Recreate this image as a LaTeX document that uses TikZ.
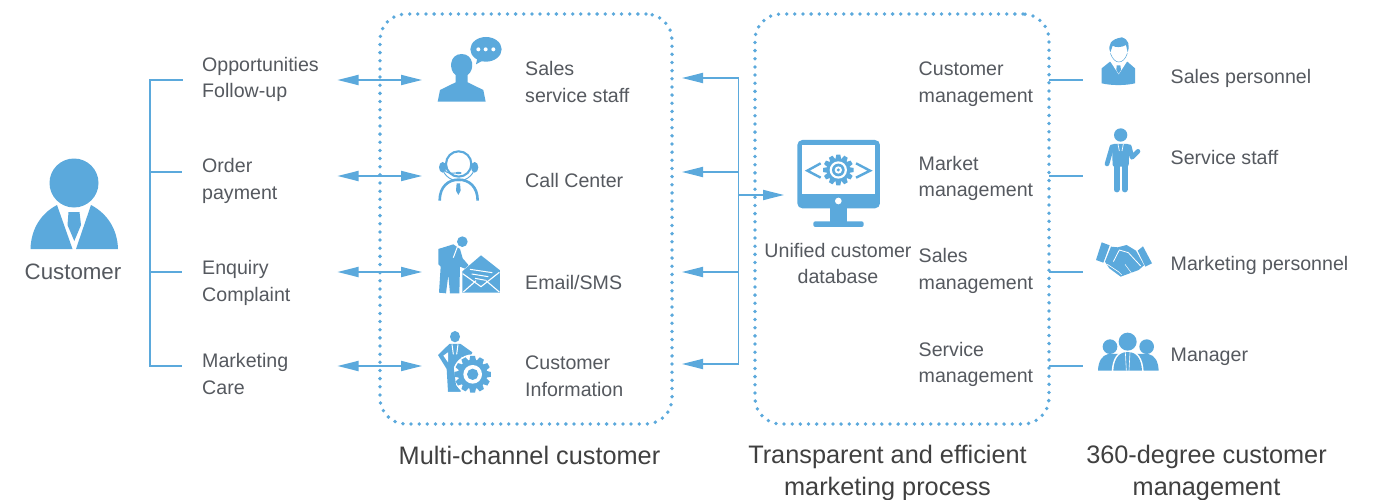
\documentclass[tikz,border=0pt]{standalone}
\usepackage{fontspec}
\setmainfont{Liberation Sans}
\usetikzlibrary{arrows.meta}
\definecolor{iconblue}{HTML}{5BA9DC}
\definecolor{txt}{HTML}{55595F}
\tikzset{
  lbl/.style={text=txt,anchor=west,align=left,inner sep=0pt,font=\fontsize{19.6}{26.7}\selectfont},
  clbl/.style={lbl,anchor=center,align=center},
  head/.style={text=black!75,anchor=center,align=center,inner sep=0pt,font=\fontsize{25.3}{32}\selectfont},
  wire/.style={draw=iconblue,line width=1.8pt},
  twoway/.style={wire,{Triangle[length=21pt,width=10pt]}-{Triangle[length=21pt,width=10pt]}},
  oneway/.style={wire,-{Triangle[length=21pt,width=10pt]}},
  dotbox/.style={draw=iconblue,line width=3.8pt,outer sep=0pt,line cap=round,dash pattern=on 0pt off 8.15pt,rounded corners=26pt},
  ic/.style={fill=iconblue,draw=none},
  wh/.style={fill=white,draw=none},
  wl/.style={draw=white,line width=1pt},
  zoomed/.style={x=0.3333pt,y=-0.3333pt}
}
\newcommand{\gearshape}[3]{% centre, outer radius, root radius
  \fill[iconblue] (#1) circle[radius=#3];
  \foreach \a in {0,30,...,330}{
    \fill[iconblue,shift={(#1)},rotate=\a]
      (-0.17*#2,0) -- (-0.17*#2,#3*1.02) -- (-0.13*#2,#2) -- (0.13*#2,#2) -- (0.17*#2,#3*1.02) -- (0.17*#2,0) -- cycle;
  }}
\begin{document}
\begin{tikzpicture}[x=1pt,y=-1pt]
\useasboundingbox (0,0) rectangle (1386,500);
\fill[white] (0,0) rectangle (1386,500);

% dotted boxes
\node[dotbox,minimum width=292pt,minimum height=410pt,anchor=north west] (channel) at (380,14) {};
\node[dotbox,minimum width=294pt,minimum height=410pt,anchor=north west] (process) at (755,14) {};

% customer icon
\fill[ic] (74,183) circle[radius=24.5];
\fill[ic] (30.5,249) .. controls (31,230) and (40,214) .. (57,205) -- (72.5,249) -- cycle;
\fill[ic] (118,249) .. controls (117.5,230) and (108,214) .. (91,205) -- (76,249) -- cycle;
\fill[ic] (68.5,212) -- (79.5,212) -- (81,225) -- (74.3,241) -- (67.5,225) -- cycle;

% text left
\node[clbl,font=\fontsize{22.3}{26}\selectfont] (customer) at (73,272) {Customer};
\node[lbl] (t1) at (202,79.5) {Opportunities\\Follow-up};
\node[lbl] (t2) at (202,181) {Order\\payment};
\node[lbl] (t3) at (202,283) {Enquiry\\Complaint};
\node[lbl] (t4) at (202,374) {Marketing\\Care};

% left bracket
\coordinate (bt) at (150,80);
\coordinate (bb) at (150,366);
\coordinate (b1) at (182.5,80);
\coordinate (b2) at (181.5,172);
\coordinate (b3) at (181.5,272);
\coordinate (b4) at (181.5,366);
\coordinate (bm2) at (150,172);
\coordinate (bm3) at (150,272);
\draw[wire,line cap=rect] (b1) -- (bt) -- (bb) -- (b4);
\draw[wire] (bm2) -- (b2);
\draw[wire] (bm3) -- (b3);

% double arrows
\foreach \n/\y in {1/80,2/176,3/272,4/366}{
  \coordinate (la\n) at (337.5,\y);
  \coordinate (lb\n) at (422,\y);
  \draw[twoway] (la\n) -- (lb\n);
}

% sales service staff icon
\begin{scope}[shift={(420,20)},zoomed]
  \fill[ic] (53,245) -- (60,210) -- (107,187) -- (107,165) .. controls (85,150) and (88,102) .. (125,102) .. controls (162,102) and (165,150) .. (143,165) -- (143,187) -- (190,210) -- (197,245) -- cycle;
  \fill[ic] (198,88) ellipse[x radius=47,y radius=37];
  \fill[ic] (172,115) -- (168,133) -- (195,118) -- cycle;
  \foreach \x in {175,197,220} \fill[white] (\x,88) circle[radius=6];
\end{scope}

% call center icon
\begin{scope}[shift={(420,20)},zoomed]
  \draw[iconblue,line width=2.1pt] (116,432) circle[radius=38];
  \draw[iconblue,line width=0.9pt] (65,432) arc[start angle=180,end angle=0,radius=50.5];
  \fill[ic] (68,442) ellipse[x radius=11,y radius=16];
  \fill[ic] (164,442) ellipse[x radius=11,y radius=16];
  \draw[iconblue,line width=1pt] (73,450) .. controls (80,460) and (90,460) .. (105,459);
  \fill[ic] (115,459) ellipse[x radius=10,y radius=3.5];
  \draw[iconblue,line width=2.6pt] (59,542) .. controls (59,500) and (85,479) .. (116,479) .. controls (147,479) and (173,500) .. (173,542);
  \fill[ic] (110,490) -- (120,490) -- (122,512) -- (115,525) -- (108,512) -- cycle;
\end{scope}

% email icon
\begin{scope}[shift={(420,225)},zoomed]
  \fill[ic] (127,50) circle[radius=16];
  \fill[ic] (55,72) -- (100,58) -- (120,72) -- (128,100) -- (147,122) -- (140,133) -- (120,125) -- (118,205) -- (90,205) -- (85,150) -- (78,205) -- (57,203) -- (62,125) -- (55,118) -- cycle;
  \draw[wl] (112,66) -- (100,98);
  \fill[white] (122,143) -- (183,87) -- (244,135) -- (244,207) -- (122,207) -- cycle;
  \fill[ic] (127,139) -- (183,91) -- (240,136) -- (240,203) -- (127,203) -- cycle;
  \draw[white,line width=1.1pt] (128,146) -- (183,185) -- (238,142);
  \draw[white,line width=1.1pt] (130,201) -- (168,167);
  \draw[white,line width=1.1pt] (238,201) -- (198,167);
  \draw[white,line width=1pt] (150,133) -- (217,143);
  \draw[white,line width=1pt] (155,147) -- (205,155);
  \draw[white,line width=1pt] (165,160) -- (197,166);
\end{scope}

% customer information icon
\begin{scope}[shift={(420,225)},zoomed]
  \fill[ic] (105,335) ellipse[x radius=15,y radius=17];
  \fill[ic] (54,390) -- (88,357) -- (122,357) -- (157,382) -- (150,402) -- (125,395) -- (122,500) -- (84,500) -- (80,432) -- cycle;
  \fill[white] (70,392) -- (84,382) -- (84,412) -- cycle;
  \draw[wl] (96,358) -- (100,388);
  \draw[wl] (114,358) -- (110,388);
  \fill[white] (158,448) circle[radius=60];
  \fill[ic] (122,500) -- (84,500) -- (84,420) -- (100,420) -- (108,480) -- cycle;
  \gearshape{158,448}{55}{44}
  \fill[white] (158,448) circle[radius=28];
  \fill[ic] (158,448) circle[radius=17];
\end{scope}

% middle text
\node[lbl] (c1) at (525,82) {Sales\\service staff};
\node[lbl] (c2) at (525,180.5) {Call Center};
\node[lbl] (c3) at (525,282.5) {Email/SMS};
\node[lbl] (c4) at (525,376) {Customer\\Information};

% right bracket
\coordinate (rt) at (738.5,78);
\coordinate (rb) at (738.5,364);
\coordinate (rm2) at (738.5,172);
\coordinate (rm3) at (738.5,272);
\coordinate (rm5) at (738.5,195);
\coordinate (ra1) at (682,78);
\coordinate (ra2) at (682,172);
\coordinate (ra3) at (682,272);
\coordinate (ra4) at (682,364);
\coordinate (rout) at (784,195);
\draw[wire] (rt) -- (rb);
\draw[oneway] (rt) -- (ra1);
\draw[oneway] (rm2) -- (ra2);
\draw[oneway] (rm3) -- (ra3);
\draw[oneway] (rb) -- (ra4);
\draw[oneway] (rm5) -- (rout);

% monitor icon
\begin{scope}[shift={(730,130)},zoomed]
  \fill[ic,rounded corners=5pt] (202,30) rectangle (450,235);
  \fill[wh] (217,45) rectangle (435,193);
  \fill[white] (325,213) circle[radius=10];
  \fill[ic] (300,235) rectangle (352,276);
  \fill[ic,rounded corners=2pt] (250,291) -- (250,274) -- (401,274) -- (401,291) -- cycle;
  \draw[iconblue,line width=2.4pt] (272,100) -- (232,122) -- (272,143);
  \draw[iconblue,line width=2.4pt] (378,100) -- (420,122) -- (378,143);
  \gearshape{325,120}{46}{36}
  \fill[white] (325,120) circle[radius=26];
  \fill[ic] (325,120) circle[radius=19];
  \fill[white] (325,120) circle[radius=11];
  \fill[ic] (325,120) circle[radius=5];
\end{scope}
\node[clbl] (db) at (838,263.5) {Unified customer\\database};

% management text
\node[lbl] (m1) at (918.5,84.5) {Customer\\management};
\node[lbl] (m2) at (918.5,178.5) {Market\\management};
\node[lbl] (m3) at (918.5,271) {Sales\\management};
\node[lbl] (m4) at (918.5,364.5) {Service\\management};

% right stubs
\foreach \n/\y in {1/80,2/176,3/272,4/366}{
  \coordinate (sa\n) at (1049,\y);
  \coordinate (sb\n) at (1082.5,\y);
  \draw[wire] (sa\n) -- (sb\n);
}

% sales personnel icon
\begin{scope}[shift={(1050,25)},zoomed]
  \fill[ic] (155,130) -- (180,110) -- (205,118) -- (232,110) -- (255,130) -- (255,175) .. controls (225,182) and (185,182) .. (155,175) -- cycle;
  \fill[white] (180,108) -- (206,148) -- (232,108) -- (205,96) -- cycle;
  \fill[ic] (200,121) -- (211,121) -- (213,135) -- (206,146) -- (199,135) -- cycle;
  \draw[iconblue,line width=0.5pt] (181,85) .. controls (188,104) and (198,111) .. (206,111) .. controls (216,111) and (226,104) .. (232,85);
  \fill[ic] (181,82) .. controls (172,60) and (182,42) .. (216,37) .. controls (236,44) and (240,60) .. (233,82) -- (228,60) .. controls (215,68) and (195,68) .. (188,62) -- cycle;
\end{scope}

% service staff icon
\begin{scope}[shift={(1050,25)},zoomed]
  \fill[ic] (212,330) circle[radius=20];
  \fill[ic,rounded corners=2pt] (186,357) -- (238,357) -- (236,425) -- (188,425) -- cycle;
  \draw[iconblue,line width=4.6pt,line cap=round] (186,365) -- (171,417);
  \draw[iconblue,line width=4.6pt,line cap=round,line join=round] (238,365) -- (246,397) -- (264,379);
  \draw[iconblue,line width=6.2pt,line cap=round] (200,420) -- (200,493);
  \draw[iconblue,line width=6.2pt,line cap=round] (224,420) -- (224,493);
  \draw[wl,line width=0.7pt] (204,357) -- (208,378);
  \draw[wl,line width=0.7pt] (220,357) -- (216,378);
\end{scope}

% handshake icon
\begin{scope}[shift={(1050,230)},zoomed]
  \fill[ic] (155,37) -- (179,46) -- (160,98) -- (138,90) -- cycle;
  \fill[ic] (279,49) -- (306,100) -- (286,110) -- (263,62) -- cycle;
  \fill[ic] (183,50) -- (203,52) -- (230,45) -- (258,62) -- (282,106) -- (266,120) -- (212,140) -- (178,115) -- (165,95) -- cycle;
  \draw[white,line width=0.8pt,line join=round] (190,95) -- (208,60) -- (235,68) -- (272,108);
  \draw[white,line width=0.6pt] (172,103) -- (205,125) -- (215,135);
  \draw[white,line width=0.5pt] (225,103) -- (245,130);
\end{scope}

% manager icon
\begin{scope}[shift={(1050,230)},zoomed]
  \fill[ic] (180,350) circle[radius=22];
  \fill[ic] (290,350) circle[radius=22];
  \fill[ic] (144,422) .. controls (145,395) and (155,376) .. (175,372) -- (210,372) -- (200,422) -- cycle;
  \fill[ic] (326,422) .. controls (325,395) and (315,376) .. (295,372) -- (260,372) -- (270,422) -- cycle;
  \fill[white] (233,335) circle[radius=30];
  \fill[white] (185,425) .. controls (187,385) and (202,362) .. (233,361) .. controls (264,362) and (279,385) .. (281,425) -- cycle;
  \fill[ic] (233,335) circle[radius=27];
  \fill[ic] (190,422) .. controls (192,388) and (205,366) .. (233,366) .. controls (261,366) and (274,388) .. (276,422) -- cycle;
  \draw[wl,line width=0.6pt] (226,366) -- (229,422);
  \draw[wl,line width=0.6pt] (240,366) -- (237,422);
\end{scope}

% right text
\node[lbl] (p1) at (1170.5,78) {Sales personnel};
\node[lbl] (p2) at (1170.5,157) {Service staff};
\node[lbl] (p3) at (1170.5,265.5) {Marketing personnel};
\node[lbl] (p4) at (1170.5,356.5) {Manager};

% headings
\node[head] (h1) at (529.5,455) {Multi-channel customer};
\node[head] (h2) at (887.5,473) {Transparent and efficient\\marketing process};
\node[head] (h3) at (1206.5,473) {360-degree customer\\management};
\end{tikzpicture}
\end{document}
